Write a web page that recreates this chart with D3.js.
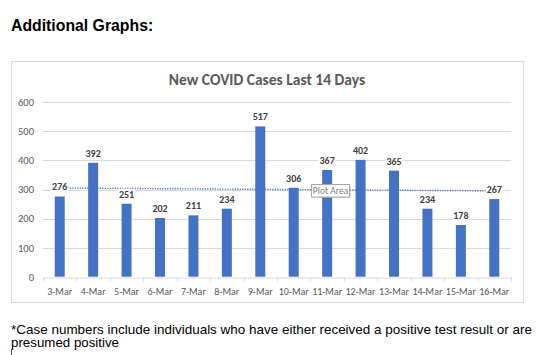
<!DOCTYPE html>
<html>
<head>
<meta charset="utf-8">
<script src="https://cdn.jsdelivr.net/npm/d3@7"></script>
<style>
  html, body { margin: 0; padding: 0; background: #fff; }
  svg { display: block; }
</style>
</head>
<body>
<svg id="chart" width="540" height="355"></svg>
<script>
const categories = ["3-Mar","4-Mar","5-Mar","6-Mar","7-Mar","8-Mar","9-Mar","10-Mar","11-Mar","12-Mar","13-Mar","14-Mar","15-Mar","16-Mar"];
const cases = [276, 392, 251, 202, 211, 234, 517, 306, 367, 402, 365, 234, 178, 267];
const yTicks = [0, 100, 200, 300, 400, 500, 600];
const pageHeading = "Additional Graphs:";
const chartTitle = "New COVID Cases Last 14 Days";
const footnoteLines = ["*Case numbers include individuals who have either received a positive test result or are", "presumed positive"];

const svg = d3.select("#chart");
const chartFont = "Carlito, Lato, 'Open Sans', sans-serif";
const docFont = "Arial, 'Liberation Sans', sans-serif";

// page heading
svg.append("text").attr("x", 11).attr("y", 31)
  .attr("font-family", docFont).attr("font-weight", "bold").attr("font-size", 15.8)
  .attr("fill", "#000").text(pageHeading);

// chart frame
svg.append("rect").attr("x", 11.5).attr("y", 61.5).attr("width", 512).attr("height", 241)
  .attr("fill", "#fff").attr("stroke", "#d9d9d9").attr("stroke-width", 1);

svg.append("text").attr("x", 267).attr("y", 85).attr("text-anchor", "middle")
  .attr("font-family", chartFont).attr("font-weight", "bold").attr("font-size", 15.5)
  .attr("fill", "#595959").text(chartTitle);

const x = d3.scaleBand().domain(categories).range([43, 511]).padding(0);
const y = d3.scaleLinear().domain([0, 600]).range([276.7, 102.3]);

// gridlines
svg.append("g").selectAll("line").data(yTicks.filter(d => d > 0)).join("line")
  .attr("x1", 43).attr("x2", 511)
  .attr("y1", d => Math.round(y(d)) + 0.5).attr("y2", d => Math.round(y(d)) + 0.5)
  .attr("stroke", "#d9d9d9").attr("stroke-width", 1);

// y axis labels
const yAxis = d3.axisLeft(y).tickValues(yTicks).tickSize(0).tickPadding(0);
const gy = svg.append("g").attr("transform", "translate(34,0)").call(yAxis);
gy.select(".domain").remove();
gy.selectAll("text").attr("font-family", chartFont).attr("font-size", 10.5).attr("fill", "#595959");

// x axis
const xAxis = d3.axisBottom(x).tickSize(0).tickPadding(0);
const gx = svg.append("g").attr("transform", `translate(0,${Math.round(y(0)) + 0.5})`).call(xAxis);
gx.select(".domain").attr("stroke", "#d9d9d9");
gx.selectAll("text").attr("font-family", chartFont).attr("font-size", 10).attr("fill", "#595959")
  .attr("dy", 0).attr("y", 17);
// tick marks at band boundaries
const bounds = categories.map(c => x(c)).concat([x.range()[1]]);
gx.append("g").selectAll("line").data(bounds).join("line")
  .attr("x1", d => Math.round(d) + 0.5).attr("x2", d => Math.round(d) + 0.5)
  .attr("y1", 0).attr("y2", 4).attr("stroke", "#d9d9d9");

// bars
const barW = 10;
svg.append("g").selectAll("rect").data(cases).join("rect")
  .attr("x", (d, i) => x(categories[i]) + x.bandwidth() / 2 - barW / 2)
  .attr("y", d => y(d)).attr("width", barW).attr("height", d => y(0) - y(d))
  .attr("fill", "#4472c4");

// linear trendline (least squares over the data)
const n = cases.length;
const idx = d3.range(1, n + 1);
const mx = d3.mean(idx), my = d3.mean(cases);
const slope = d3.sum(idx, (xi, i) => (xi - mx) * (cases[i] - my)) / d3.sum(idx, xi => (xi - mx) ** 2);
const intercept = my - slope * mx;
const cx = i => x(categories[i]) + x.bandwidth() / 2;
svg.append("line")
  .attr("x1", cx(0)).attr("x2", cx(n - 1))
  .attr("y1", y(intercept + slope * 1)).attr("y2", y(intercept + slope * n))
  .attr("stroke", "#4472c4").attr("stroke-width", 1.4).attr("stroke-dasharray", "1.2 1.3");

// data labels with white background
const lbl = svg.append("g").selectAll("g").data(cases).join("g")
  .attr("transform", (d, i) => `translate(${cx(i)},${y(d) - 6})`);
lbl.append("text").attr("text-anchor", "middle")
  .attr("font-family", chartFont).attr("font-weight", "bold").attr("font-size", 10)
  .attr("fill", "#404040").text(d => d);
lbl.each(function() {
  const g = d3.select(this);
  const bb = g.select("text").node().getBBox();
  g.insert("rect", "text").attr("x", bb.x - 1).attr("y", bb.y + 1).attr("width", bb.width + 2).attr("height", bb.height - 2).attr("fill", "#fff");
});

// "Plot Area" tooltip
const tip = svg.append("g").attr("transform", "translate(311,184)");
tip.append("rect").attr("x", 1.5).attr("y", 1.5).attr("width", 38).attr("height", 12.5).attr("fill", "#bfbfbf").attr("opacity", 0.6);
tip.append("rect").attr("x", 0.5).attr("y", 0.5).attr("width", 38).attr("height", 12.5).attr("fill", "#fff").attr("stroke", "#a6a6a6");
tip.append("text").attr("x", 19.5).attr("y", 10).attr("text-anchor", "middle")
  .attr("font-family", chartFont).attr("font-size", 9.5).attr("fill", "#7f7f7f").text("Plot Area");

// footnote (two separate lines)
const footLens = [521, 108];
svg.append("g").selectAll("text").data(footnoteLines).join("text")
  .attr("font-family", docFont).attr("font-size", 12.6).attr("fill", "#000")
  .attr("x", 11).attr("y", (d, i) => 333.5 + i * 13)
  .attr("textLength", (d, i) => footLens[i]).attr("lengthAdjust", "spacingAndGlyphs")
  .text(d => d);

// text cursor
svg.append("line").attr("x1", 11.5).attr("x2", 11.5).attr("y1", 349).attr("y2", 355).attr("stroke", "#555");
</script>
</body>
</html>
